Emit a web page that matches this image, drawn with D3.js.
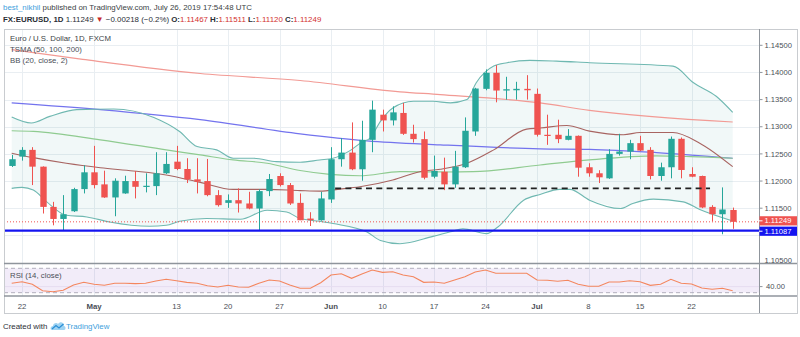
<!DOCTYPE html>
<html><head><meta charset="utf-8">
<script src="https://cdn.jsdelivr.net/npm/d3@7"></script>
<style>
html,body{margin:0;padding:0;background:#fff;}
svg{display:block;font-family:"Liberation Sans",Arial,sans-serif;}
</style></head>
<body><svg id="c" width="800" height="337"></svg>
<script>
// ---------- DATA ----------
const startDate = "2019-04-19", endDate = "2019-07-26";
const opens  = [1.12278,1.12450,1.12574,1.12265,1.11524,1.11302,1.11444,1.11852,1.12161,1.11939,1.11698,1.11772,1.12000,1.11894,1.11907,1.12143,1.12357,1.12222,1.12031,1.12000,1.11741,1.11598,1.11648,1.11587,1.11494,1.11815,1.12093,1.11926,1.11598,1.11309,1.11278,1.11661,1.12402,1.12524,1.12217,1.12759,1.13222,1.13117,1.13254,1.12870,1.12772,1.12080,1.12172,1.11939,1.12254,1.12913,1.13698,1.13994,1.13667,1.13672,1.13698,1.13606,1.12852,1.12852,1.12759,1.12833,1.12254,1.12143,1.12050,1.12500,1.12543,1.12698,1.12574,1.12093,1.12254,1.12778,1.12130,1.12093,1.11524,1.11389,1.11467];
const highs  = [1.12481,1.12624,1.12624,1.12270,1.11617,1.11741,1.11876,1.12291,1.12648,1.12191,1.12050,1.12098,1.12185,1.12143,1.12531,1.12531,1.12648,1.12420,1.12420,1.12407,1.11833,1.11754,1.11865,1.11802,1.11846,1.12130,1.12143,1.11963,1.11772,1.11426,1.11802,1.12624,1.12791,1.13080,1.13111,1.13481,1.13315,1.13376,1.13439,1.13037,1.12913,1.12469,1.12431,1.12556,1.13172,1.13717,1.14056,1.14135,1.13920,1.13828,1.13950,1.13704,1.13222,1.13130,1.12957,1.12840,1.12328,1.12200,1.12587,1.12870,1.12759,1.12833,1.12624,1.12339,1.12820,1.12802,1.12254,1.12100,1.11556,1.11883,1.11511];
const lows   = [1.12259,1.12376,1.11926,1.11402,1.11185,1.11093,1.11430,1.11772,1.11865,1.11690,1.11352,1.11765,1.11680,1.11791,1.11741,1.12130,1.12200,1.11963,1.11772,1.11720,1.11530,1.11506,1.11420,1.11480,1.11093,1.11722,1.11900,1.11560,1.11280,1.11172,1.11270,1.11598,1.12265,1.12200,1.12006,1.12531,1.12913,1.13024,1.12850,1.12709,1.12031,1.12050,1.11833,1.11876,1.12240,1.12833,1.13672,1.13450,1.13500,1.13500,1.13500,1.12820,1.12667,1.12698,1.12750,1.12080,1.12080,1.11963,1.12040,1.12469,1.12402,1.12550,1.12031,1.12006,1.12050,1.12050,1.12070,1.11500,1.11259,1.11020,1.11120];
const closes = [1.12402,1.12574,1.12265,1.11524,1.11302,1.11389,1.11852,1.12161,1.11926,1.11698,1.12006,1.12000,1.11894,1.11913,1.12143,1.12315,1.12222,1.12031,1.11988,1.11741,1.11556,1.11648,1.11587,1.11494,1.11815,1.12037,1.11926,1.11587,1.11278,1.11278,1.11680,1.12402,1.12524,1.12217,1.12759,1.13315,1.13117,1.13265,1.12870,1.12772,1.12061,1.12185,1.11939,1.12265,1.12926,1.13704,1.13994,1.13667,1.13691,1.13698,1.13672,1.12852,1.12833,1.12772,1.12833,1.12246,1.12143,1.12069,1.12500,1.12543,1.12698,1.12561,1.12093,1.12254,1.12778,1.12204,1.12080,1.11513,1.11389,1.11476,1.11249];

// overlays: [bar number from Apr 19, value]
const sma200 = [[0,1.14420],[6.9,1.14241],[18.3,1.13981],[28,1.13852],[37.7,1.13643],[41.6,1.13593],[51.3,1.13439],[56.1,1.13302],[70,1.13087]];
const sma100 = [[0,1.13439],[8.6,1.13315],[18.3,1.13130],[28,1.12870],[34.5,1.12741],[41.6,1.12667],[51.3,1.12593],[56.1,1.12583],[62.6,1.12524],[70,1.12420]];
const sma50  = [[0,1.12926],[2.1,1.12913],[8.6,1.12759],[15,1.12574],[18.3,1.12481],[21.5,1.12389],[24.8,1.12328],[28,1.12194],[30.9,1.12124],[33.8,1.12098],[37.7,1.12172],[42.1,1.12167],[44.8,1.12172],[51.3,1.12296],[56.1,1.12389],[62.6,1.12463],[65.9,1.12450],[70,1.12420]];
const bbUpper = [[0,1.13180],[1.9,1.13069],[3.7,1.13191],[6.3,1.13315],[9.9,1.13328],[13.8,1.13172],[16.3,1.12913],[18,1.12635],[19.9,1.12574],[21.5,1.12420],[23.5,1.12420],[25.7,1.12357],[28,1.12346],[29.9,1.12389],[31.2,1.12420],[32.8,1.12556],[34,1.12717],[34.8,1.12791],[35.8,1.13098],[37,1.13346],[39,1.13469],[40.9,1.13469],[42.6,1.13439],[44.2,1.13500],[45.1,1.13809],[46.8,1.14117],[48.1,1.14180],[50.3,1.14222],[52.9,1.14209],[56.1,1.14180],[64.2,1.14117],[66.2,1.13809],[68.4,1.13561],[70,1.13265]];
const bbBasis = [[0,1.12513],[2.1,1.12431],[5.3,1.12328],[8.6,1.12246],[11.8,1.12185],[15,1.12111],[18.3,1.11976],[21.5,1.11846],[24.8,1.11846],[28,1.11824],[29.9,1.11815],[31.9,1.11852],[33.8,1.11894],[37,1.12019],[39.6,1.12172],[41.6,1.12217],[44.2,1.12328],[46.8,1.12574],[50,1.12957],[51.3,1.12976],[53.9,1.13024],[56.1,1.12920],[59.4,1.12852],[61,1.12894],[64.2,1.12894],[66.8,1.12698],[70,1.12265]];
const bbLower = [[0,1.11865],[1,1.11883],[2.1,1.11833],[3.4,1.11617],[5.3,1.11370],[7.3,1.11339],[9.5,1.11246],[13.4,1.11167],[15,1.11185],[16.3,1.11259],[18.9,1.11309],[22.2,1.11296],[24.8,1.11463],[26.7,1.11431],[28,1.11309],[29.9,1.11259],[31.2,1.11217],[34.5,1.11061],[35.8,1.10907],[37.7,1.10846],[40.9,1.10981],[42.6,1.11065],[43.8,1.11120],[46.1,1.11031],[47.2,1.11154],[49.7,1.11648],[51.3,1.11754],[53.2,1.11846],[54.2,1.11846],[56.1,1.11648],[59.1,1.11494],[60.3,1.11587],[62.3,1.11667],[65.2,1.11617],[66.8,1.11476],[70,1.11265]];
const rsi = [45.4,48.0,43.8,33.3,31.6,33.9,42.6,47.0,43.8,42.1,45.4,45.4,44.8,45.4,49.2,52.0,49.7,47.0,45.4,41.5,39.3,42.1,39.3,38.9,45.4,50.8,49.2,42.6,37.2,37.2,46.4,59.0,61.1,53.6,60.7,67.2,63.4,64.4,59.0,56.2,47.0,47.5,45.4,50.8,56.2,63.9,67.2,61.8,61.8,61.8,61.8,50.8,50.3,48.7,50.3,43.8,40.5,40.5,47.5,47.5,49.7,48.0,42.1,43.8,52.0,45.4,44.3,37.7,35.6,37.2,33.3];
const supportLevel = 1.11087, lastPrice = 1.11249;
const dashedLevel = {from: 31.4, to: 67.8, value: 1.11865};
const priceTicks = [1.105,1.11,1.115,1.12,1.125,1.13,1.135,1.14,1.145];
const timeTickDates = ["2019-04-22","2019-05-01","2019-05-13","2019-05-20","2019-05-27","2019-06-03","2019-06-10","2019-06-17","2019-06-24","2019-07-01","2019-07-08","2019-07-15","2019-07-22"];
const timeTickLabels = ["22","May","13","20","27","Jun","10","17","24","Jul","8","15","22"];

// ---------- SETUP ----------
const fmt = d3.utcFormat("%Y-%m-%d");
const dates = d3.utcDays(new Date(startDate+"T00:00Z"), d3.utcDay.offset(new Date(endDate+"T00:00Z"),1))
  .filter(d => d.getUTCDay()!==0 && d.getUTCDay()!==6).map(fmt);
const bars = dates.map((d,i)=>({d, i, o:opens[i], h:highs[i], l:lows[i], c:closes[i]}));

const svg = d3.select("#c");
const L = 4, R = 759, T = 29, PB = 263.5, RB = 296, B = 313, FR = 797;
const x = d3.scaleLinear().domain([0, dates.length-1]).range([11.7, 732.7]);
const y = d3.scaleLinear().domain([1.105, 1.145]).range([262.5, 45.3]);
const yr = d3.scaleLinear().domain([30, 70]).range([292.7, 268.3]);
const UP = "#26a69a", DN = "#ef5350", TXT = "#4a4f57";

svg.append("defs").append("clipPath").attr("id","pc").append("rect")
  .attr("x",L).attr("y",T).attr("width",R-L).attr("height",PB-T);
svg.select("defs").append("clipPath").attr("id","rc").append("rect")
  .attr("x",L).attr("y",PB).attr("width",R-L).attr("height",RB-PB);

// grid
const tickIdx = timeTickDates.map(d => dates.indexOf(d));
const grid = svg.append("g").attr("stroke","#e9eef2").attr("stroke-width",1);
tickIdx.forEach(i => grid.append("line").attr("x1",Math.round(x(i))+0.5).attr("x2",Math.round(x(i))+0.5).attr("y1",T).attr("y2",RB));
priceTicks.forEach(p => grid.append("line").attr("x1",L).attr("x2",R).attr("y1",Math.round(y(p))+0.5).attr("y2",Math.round(y(p))+0.5));

// price pane
const pane = svg.append("g").attr("clip-path","url(#pc)");
const line = d3.line().x(d=>x(d[0])).y(d=>y(d[1])).curve(d3.curveMonotoneX);
// BB fill between bands
const bandX = d3.range(0, 70.01, 0.25);
const interp = (arr, t) => { for (let k=1;k<arr.length;k++){ if (t<=arr[k][0]){ const a=arr[k-1], b=arr[k]; const f=(t-a[0])/(b[0]-a[0]); return a[1]+(b[1]-a[1])*f; } } return arr[arr.length-1][1]; };
pane.append("path").datum(bandX.map(t=>[t, interp(bbUpper,t), interp(bbLower,t)]))
  .attr("d", d3.area().x(d=>x(d[0])).y0(d=>y(d[2])).y1(d=>y(d[1])))
  .attr("fill","rgba(19,132,132,0.06)");
const drawLine = (data, color, w) => pane.append("path").datum(data).attr("d", line)
  .attr("fill","none").attr("stroke",color).attr("stroke-width",w||1);
drawLine(sma200, "#f29a94", 1.2);
drawLine(sma100, "#7373ee", 1.2);
drawLine(sma50, "#8fcb90", 1.2);
drawLine(bbUpper, "#6fb8b1", 1.1);
drawLine(bbLower, "#6fb8b1", 1.1);
drawLine(bbBasis, "#a86461", 1.1);

// last price dotted line
pane.append("line").attr("x1",L).attr("x2",R).attr("y1",y(lastPrice)).attr("y2",y(lastPrice))
  .attr("stroke",DN).attr("stroke-width",1).attr("stroke-dasharray","1,2");

// candles
const bw = 6.4;
const cg = pane.append("g");
cg.selectAll("line.w").data(bars).join("line").attr("class","w")
  .attr("x1",d=>Math.round(x(d.i))+0.5).attr("x2",d=>Math.round(x(d.i))+0.5)
  .attr("y1",d=>y(d.h)).attr("y2",d=>y(d.l))
  .attr("stroke",d=>d.c>=d.o?UP:DN).attr("stroke-width",1);
cg.selectAll("rect").data(bars).join("rect")
  .attr("x",d=>Math.round(x(d.i))+0.5-bw/2).attr("width",bw)
  .attr("y",d=>y(Math.max(d.o,d.c))).attr("height",d=>Math.max(1.2, Math.abs(y(d.o)-y(d.c))))
  .attr("fill",d=>d.c>=d.o?UP:DN);

// dashed horizontal level
pane.append("line").attr("x1",x(dashedLevel.from)).attr("x2",x(dashedLevel.to))
  .attr("y1",y(dashedLevel.value)).attr("y2",y(dashedLevel.value))
  .attr("stroke","#222").attr("stroke-width",1.6).attr("stroke-dasharray","6,4.3");
// support line
pane.append("line").attr("x1",L).attr("x2",R).attr("y1",y(supportLevel)).attr("y2",y(supportLevel))
  .attr("stroke","#1414f0").attr("stroke-width",2.2);

// RSI pane
const rp = svg.append("g").attr("clip-path","url(#rc)");
rp.append("rect").attr("x",L).attr("width",R-L).attr("y",yr(70)).attr("height",yr(30)-yr(70)).attr("fill","rgba(140,80,200,0.11)");
[70,30].forEach(v => rp.append("line").attr("x1",L).attr("x2",R).attr("y1",yr(v)).attr("y2",yr(v))
  .attr("stroke","#a9a6b6").attr("stroke-width",0.9).attr("stroke-dasharray","4,3"));
rp.append("line").attr("x1",L).attr("x2",R).attr("y1",yr(40)).attr("y2",yr(40)).attr("stroke","#e6dcf0").attr("stroke-width",1);
rp.append("path").datum(rsi).attr("d", d3.line().x((d,i)=>x(i)).y(d=>yr(d)))
  .attr("fill","none").attr("stroke","#f4865e").attr("stroke-width",1.1);

// frame & separators
svg.append("rect").attr("x",L+0.5).attr("y",T+0.5).attr("width",FR-L).attr("height",B-T)
  .attr("fill","none").attr("stroke","#c9ccd0").attr("stroke-width",1);
svg.append("line").attr("x1",L).attr("x2",FR).attr("y1",PB).attr("y2",PB).attr("stroke","#8f959c").attr("stroke-width",1.6);
svg.append("line").attr("x1",L).attr("x2",FR).attr("y1",RB).attr("y2",RB).attr("stroke","#8f959c").attr("stroke-width",1.4);
svg.append("line").attr("x1",R+0.5).attr("x2",R+0.5).attr("y1",T).attr("y2",B).attr("stroke","#8f959c").attr("stroke-width",1);

// price axis labels (those hidden behind the value tags are skipped)
const tagPrices = [lastPrice, supportLevel];
const ax = svg.append("g").attr("font-size","7.6px").attr("fill",TXT);
priceTicks.forEach(p => {
  if (p <= 1.1055) return;
  if (tagPrices.some(t => Math.abs(y(t)-y(p)) < 9)) return;
  ax.append("line").attr("x1",R).attr("x2",R+3.5).attr("y1",y(p)).attr("y2",y(p)).attr("stroke","#8f959c");
  ax.append("text").attr("x",R+5.5).attr("y",y(p)).attr("dy","0.35em").text(p.toFixed(5));
});
// 1.10500 partially hidden near separator
ax.append("text").attr("x",R+5.5).attr("y",y(1.105)).attr("dy","0.1em").text((1.105).toFixed(5));
ax.append("line").attr("x1",R).attr("x2",R+3.5).attr("y1",yr(40)).attr("y2",yr(40)).attr("stroke","#8f959c");
ax.append("text").attr("x",R+7).attr("y",yr(40)).attr("dy","0.35em").text("40.00");
// value labels
const tag = (v, col, yy) => {
  svg.append("rect").attr("x",R+0.5).attr("y",yy-4.6).attr("width",FR-R-0.5).attr("height",9.2).attr("fill",col);
  svg.append("line").attr("x1",R).attr("x2",R+3.5).attr("y1",yy).attr("y2",yy).attr("stroke","#fff");
  svg.append("text").attr("x",R+5.5).attr("y",yy).attr("dy","0.35em").attr("font-size","7.6px").attr("fill","#fff").text(v.toFixed(5));
};
tag(lastPrice, "#ef5350", y(lastPrice)-1);
tag(supportLevel, "#1414f0", y(supportLevel)+0.6);

// time axis labels
const tx = svg.append("g").attr("font-size","7.8px").attr("fill",TXT).attr("text-anchor","middle");
tickIdx.forEach((i,k) => tx.append("text").attr("x",x(i)).attr("y",309)
  .attr("font-weight", /^[A-Z]/.test(timeTickLabels[k]) ? "bold" : null).text(timeTickLabels[k]));

// legends
const lg = svg.append("g").attr("font-size","7.8px").attr("fill",TXT);
lg.append("text").attr("x",10).attr("y",40.5).attr("fill","#3b3f45").text("Euro / U.S. Dollar, 1D, FXCM");
lg.append("text").attr("x",10).attr("y",52).text("TSMA (50, 100, 200)");
lg.append("text").attr("x",10).attr("y",63).text("BB (20, close, 2)");
lg.append("text").attr("x",10).attr("y",277.5).text("RSI (14, close)");

// header
const h1 = svg.append("text").attr("x",3).attr("y",10).attr("font-size","7.9px").attr("fill","#3b3f45");
h1.append("tspan").attr("fill","#3ea0dc").text("best_nikhil");
h1.append("tspan").text(" published on TradingView.com, July 26, 2019 17:54:48 UTC");
const h2 = svg.append("text").attr("x",3).attr("y",21.5).attr("font-size","7.9px").attr("fill","#2a2e35");
h2.append("tspan").attr("font-weight","bold").text("FX:EURUSD, 1D");
h2.append("tspan").text("  1.11249 ");
h2.append("tspan").attr("fill","#c62828").text("▼");
h2.append("tspan").text(" −0.00218 (−0.2%) ");
const ohlc = [["O:",1.11467],["H:",1.11511],["L:",1.11120],["C:",1.11249]];
ohlc.forEach((d,k) => {
  h2.append("tspan").attr("font-weight","bold").text((k?" ":"")+d[0]);
  h2.append("tspan").attr("fill","#d32f2f").text(d[1].toFixed(5));
});

// footer
svg.append("text").attr("x",3).attr("y",329).attr("font-size","7.9px").attr("fill","#2a2e35").text("Created with");
const lgG = svg.append("g").attr("transform","translate(51,321)");
lgG.append("path").attr("d","M1,9 C-1,9 -1,5 2,5 C2,2 6,1 7,3 C9,0 13,1 13,5 C15,5 15,9 13,9 Z").attr("fill","#9fd3f2");
lgG.append("path").attr("d","M1,8 L5,4.5 L8,7 L12.5,3").attr("fill","none").attr("stroke","#2a8fd6").attr("stroke-width",1.3);
svg.append("text").attr("x",66).attr("y",329).attr("font-size","7.9px").attr("fill","#3ea0dc").text("TradingView");
</script></body></html>
